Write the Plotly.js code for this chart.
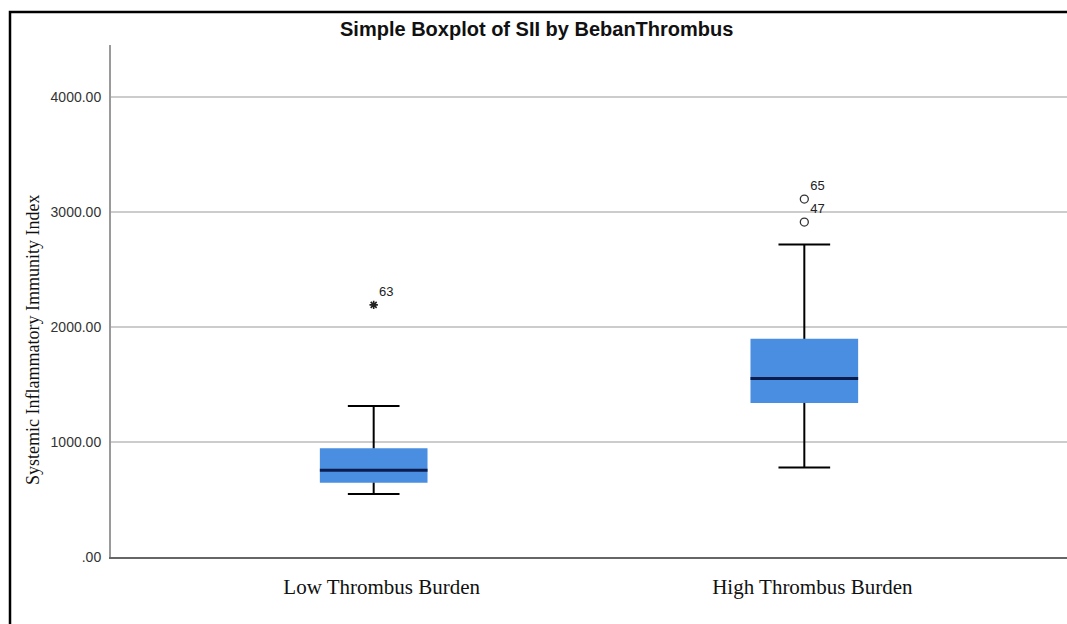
<!DOCTYPE html>
<html>
<head>
<meta charset="utf-8">
<script src="https://cdn.plot.ly/plotly-3.0.1.min.js"></script>
<style>html,body{margin:0;padding:0;background:#fff;}#chart{width:1067px;height:624px;}</style>
</head>
<body>
<div id="chart"></div>
<script>
// ---- data ----
const categories = ["Low Thrombus Burden", "High Thrombus Burden"];
const positions = [0, 1];
const q1Values = [646, 1339];
const medianValues = [754, 1551];
const q3Values = [945, 1896];
const lowerWhisker = [548, 777];
const upperWhisker = [1313, 2716];

const outlierX = [1, 1];
const outlierY = [3111, 2911];
const outlierLabels = ["65", "47"];

const extremeX = [0];
const extremeY = [2191];
const extremeLabels = ["63"];

const yTickVals = [0, 1000, 2000, 3000, 4000];
const yTickText = [".00", "1000.00", "2000.00", "3000.00", "4000.00"];

// ---- styling ----
const boxBlue = "#4a8ee2";
const medianNavy = "#0c1c4c";
const boxHalf = 0.125;
const capHalf = 0.06;

// whisker segments
const wx = [], wy = [];
positions.forEach((p, i) => {
  wx.push(p, p, null, p - capHalf, p + capHalf, null, p, p, null, p - capHalf, p + capHalf, null);
  wy.push(q3Values[i], upperWhisker[i], null, upperWhisker[i], upperWhisker[i], null,
          q1Values[i], lowerWhisker[i], null, lowerWhisker[i], lowerWhisker[i], null);
});
// median segments
const mx = [], my = [];
positions.forEach((p, i) => {
  mx.push(p - boxHalf, p + boxHalf, null);
  my.push(medianValues[i], medianValues[i], null);
});

const traces = [
  {
    type: "box",
    x: positions,
    q1: q1Values,
    median: medianValues,
    q3: q3Values,
    lowerfence: lowerWhisker,
    upperfence: upperWhisker,
    width: 0.25,
    fillcolor: boxBlue,
    line: {color: boxBlue, width: 0},
    whiskerwidth: 0,
    boxpoints: false,
    hoverinfo: "skip",
    showlegend: false
  },
  {
    type: "scatter", mode: "lines", x: wx, y: wy,
    line: {color: "#000", width: 2}, hoverinfo: "skip", showlegend: false
  },
  {
    type: "scatter", mode: "lines", x: mx, y: my,
    line: {color: medianNavy, width: 3}, hoverinfo: "skip", showlegend: false
  },
  {
    type: "scatter", mode: "markers+text", x: outlierX, y: outlierY,
    text: outlierLabels, textposition: "top right",
    textfont: {family: "Liberation Sans, Arial, sans-serif", size: 13, color: "#222"},
    marker: {symbol: "circle-open", size: 8, color: "#333", line: {width: 1.3, color: "#333"}},
    hoverinfo: "skip", showlegend: false
  },
  {
    type: "scatter", mode: "markers+text", x: extremeX, y: extremeY,
    text: extremeLabels, textposition: "top right",
    textfont: {family: "Liberation Sans, Arial, sans-serif", size: 13, color: "#222"},
    marker: {symbol: "asterisk-open", size: 7, color: "#222", line: {width: 1.6, color: "#222"}},
    hoverinfo: "skip", showlegend: false
  }
];

const layout = {
  width: 1067, height: 624,
  margin: {l: 111, r: 0, t: 45, b: 67},
  paper_bgcolor: "#fff",
  plot_bgcolor: "#fff",
  showlegend: false,
  title: {
    text: "<b>Simple Boxplot of SII by BebanThrombus</b>",
    font: {family: "Liberation Sans, Arial, sans-serif", size: 20, color: "#111"},
    xref: "container", x: 0.503, xanchor: "center",
    yref: "container", y: 1 - 29 / 624, yanchor: "middle"
  },
  xaxis: {
    range: [-0.61, 1.61],
    tickvals: positions,
    ticktext: categories,
    tickfont: {family: "Liberation Serif, Times New Roman, serif", size: 21, color: "#111"},
    ticks: "outside", ticklen: 10, tickcolor: "rgba(0,0,0,0)",
    ticklabelshift: 8,
    showgrid: false, zeroline: false,
    showline: true, linecolor: "#666", linewidth: 1.5,
    fixedrange: true
  },
  yaxis: {
    range: [0, 4450],
    tickvals: yTickVals,
    ticktext: yTickText,
    tickfont: {family: "Liberation Sans, Arial, sans-serif", size: 14, color: "#333"},
    ticks: "outside", ticklen: 5, tickcolor: "rgba(0,0,0,0)",
    showgrid: true, gridcolor: "#cccccc", gridwidth: 1.5,
    zeroline: false,
    showline: true, linecolor: "#9a9a9a", linewidth: 2,
    fixedrange: true
  },
  annotations: [{
    text: "Systemic Inflammatory Immunity Index",
    textangle: -90,
    xref: "paper", yref: "paper",
    x: (33 - 111) / 956, y: 1 - (340 - 45) / 512,
    xanchor: "center", yanchor: "middle",
    showarrow: false,
    font: {family: "Liberation Serif, Times New Roman, serif", size: 18, color: "#111"}
  }],
  shapes: [{
    type: "rect", xref: "paper", yref: "paper",
    x0: (10 - 111) / 956, x1: 1.05,
    y0: -0.5, y1: 1 + (45 - 12) / 512,
    line: {color: "#000", width: 2.5},
    fillcolor: "rgba(0,0,0,0)",
    layer: "above"
  }]
};

Plotly.newPlot("chart", traces, layout, {displayModeBar: false, staticPlot: true});
</script>
</body>
</html>
